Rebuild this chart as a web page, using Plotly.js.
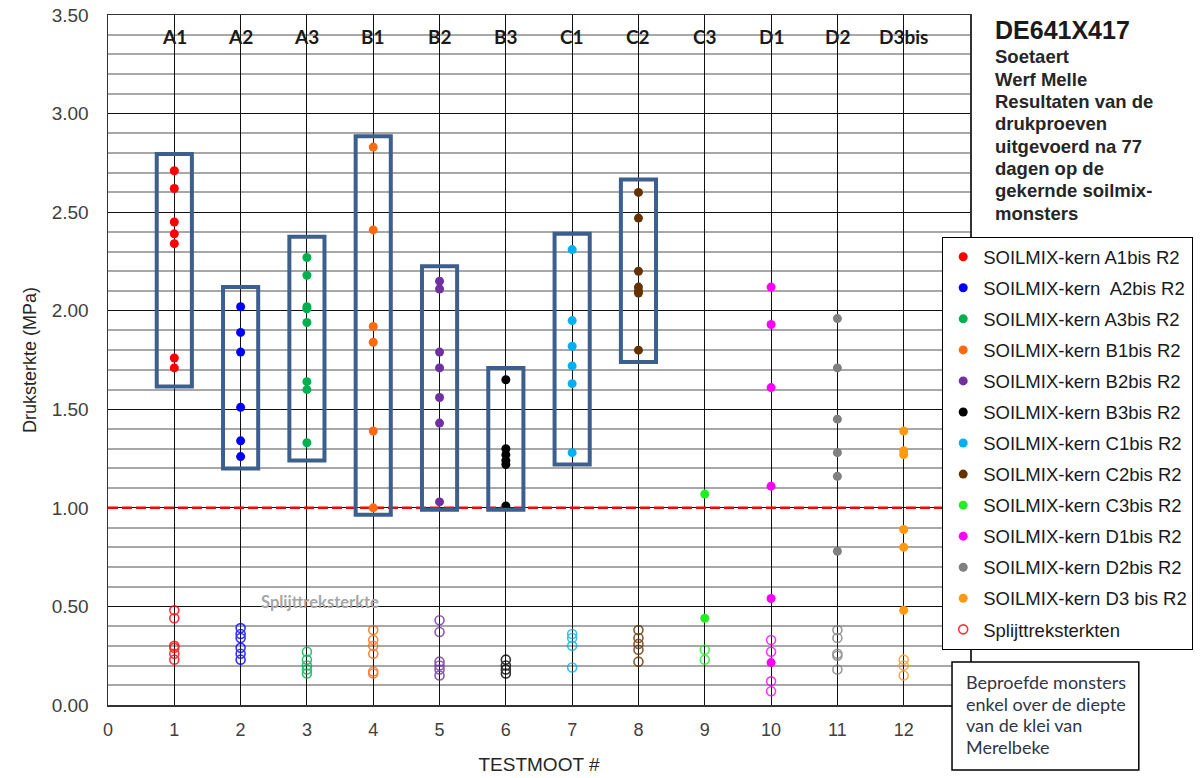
<!DOCTYPE html>
<html><head><meta charset="utf-8">
<script src="https://cdn.plot.ly/plotly-3.0.1.min.js"></script>
<style>html,body{margin:0;padding:0;background:#fff}#chart{width:1204px;height:778px}</style>
</head><body><div id="chart"></div>
<script>
// ---------- DATA ----------
const testX = [1, 2, 3, 4, 5, 6, 7, 8, 9, 10, 11, 12];
const coreLabels = ['A1', 'A2', 'A3', 'B1', 'B2', 'B3', 'C1', 'C2', 'C3', 'D1', 'D2', 'D3bis'];
const legendNames = [
  'SOILMIX-kern A1bis R2', 'SOILMIX-kern  A2bis R2', 'SOILMIX-kern A3bis R2',
  'SOILMIX-kern B1bis R2', 'SOILMIX-kern B2bis R2', 'SOILMIX-kern B3bis R2',
  'SOILMIX-kern C1bis R2', 'SOILMIX-kern C2bis R2', 'SOILMIX-kern C3bis R2',
  'SOILMIX-kern D1bis R2', 'SOILMIX-kern D2bis R2', 'SOILMIX-kern D3 bis R2'
];
const splitName = 'Splijttreksterkten';
const coreColors = ['#ff0000', '#0000ff', '#00b050', '#ff6a10', '#7030a0', '#000000',
                    '#00b0f0', '#663300', '#22ee22', '#ff00ff', '#808080', '#ff9a10'];

// Druksterkte (MPa) per kern
const drukA1 = [2.71, 2.62, 2.45, 2.39, 2.34, 1.76, 1.71];
const drukA2 = [2.02, 1.89, 1.79, 1.51, 1.34, 1.26];
const drukA3 = [2.27, 2.18, 2.02, 2.01, 1.94, 1.64, 1.60, 1.33];
const drukB1 = [2.83, 2.41, 1.92, 1.84, 1.39, 1.00];
const drukB2 = [2.15, 2.11, 1.79, 1.71, 1.56, 1.43, 1.03];
const drukB3 = [1.65, 1.30, 1.27, 1.24, 1.22, 1.01];
const drukC1 = [2.31, 1.95, 1.82, 1.72, 1.63, 1.28];
const drukC2 = [2.60, 2.47, 2.20, 2.12, 2.10, 2.09, 1.80];
const drukC3 = [1.07, 0.44];
const drukD1 = [2.12, 1.93, 1.61, 1.11, 0.54, 0.215];
const drukD2 = [1.96, 1.71, 1.45, 1.28, 1.16, 0.78];
const drukD3 = [1.39, 1.29, 1.27, 0.89, 0.80, 0.48];

// Splijttreksterkte (MPa) per kern
const splitA1 = [0.48, 0.44, 0.30, 0.29, 0.26, 0.23];
const splitA2 = [0.39, 0.36, 0.34, 0.29, 0.26, 0.23];
const splitA3 = [0.27, 0.23, 0.20, 0.18, 0.16];
const splitB1 = [0.38, 0.33, 0.30, 0.26, 0.17, 0.16];
const splitB2 = [0.43, 0.37, 0.22, 0.20, 0.18, 0.15];
const splitB3 = [0.23, 0.20, 0.18, 0.16];
const splitC1 = [0.36, 0.34, 0.30, 0.19];
const splitC2 = [0.38, 0.34, 0.31, 0.28, 0.22];
const splitC3 = [0.28, 0.23];
const splitD1 = [0.33, 0.27, 0.12, 0.07];
const splitD2 = [0.38, 0.34, 0.26, 0.25, 0.18];
const splitD3 = [0.23, 0.20, 0.15];

// Omkaderde groepen
const boxX = [1, 2, 3, 4, 5, 6, 7, 8];
const boxLow = [1.615, 1.20, 1.24, 0.965, 0.99, 0.99, 1.22, 1.74];
const boxHigh = [2.795, 2.12, 2.375, 2.885, 2.225, 1.71, 2.39, 2.665];

const thresholdX = [0, 13];
const thresholdY = [1.0, 1.0];
const xTickVals = [0, 1, 2, 3, 4, 5, 6, 7, 8, 9, 10, 11, 12];

const titleMain = 'DE641X417';
const titleLines = ['Soetaert', 'Werf Melle', 'Resultaten van de', 'drukproeven',
  'uitgevoerd na 77', 'dagen op de', 'gekernde soilmix-', 'monsters'];
const noteLines = ['Beproefde monsters', 'enkel over de diepte', 'van de klei van', 'Merelbeke'];
const splitLabel = 'Splijttreksterkte';

// ---------- BUILD ----------
const drukSets = [drukA1, drukA2, drukA3, drukB1, drukB2, drukB3, drukC1, drukC2, drukC3, drukD1, drukD2, drukD3];
const splitSets = [splitA1, splitA2, splitA3, splitB1, splitB2, splitB3, splitC1, splitC2, splitC3, splitD1, splitD2, splitD3];

// plot geometry (pixels) for paper-positioned texts
const PL = 108, PR = 971, PT = 15, PB = 705;
const px2x = p => (p - PL) / (PR - PL);
const py2y = p => (PB - p) / (PB - PT);

const traces = [];
traces.push({
  x: thresholdX, y: thresholdY, mode: 'lines', showlegend: false, hoverinfo: 'skip',
  line: {color: '#ff0000', width: 2.5, dash: '10px,4px'}
});
drukSets.forEach((vals, i) => {
  traces.push({
    x: vals.map(() => testX[i]), y: vals, mode: 'markers', type: 'scatter',
    name: legendNames[i], legendgroup: 'g' + i,
    marker: {color: coreColors[i], size: 9, symbol: 'circle'}
  });
});
splitSets.forEach((vals, i) => {
  traces.push({
    x: vals.map(() => testX[i]), y: vals, mode: 'markers', type: 'scatter',
    name: splitName, legendgroup: 'split', showlegend: i === 0,
    opacity: 0.8,
    marker: {color: coreColors[i], size: 9, symbol: 'circle-open', line: {width: 1.6, color: coreColors[i]}}
  });
});

const halfW = 0.265;
const shapes = boxX.map((x, i) => ({
  type: 'rect', xref: 'x', yref: 'y', x0: x - halfW, x1: x + halfW,
  y0: boxLow[i], y1: boxHigh[i], line: {color: '#3c5f8e', width: 4}, fillcolor: 'rgba(0,0,0,0)', layer: 'above'
}));
// note box
shapes.push({
  type: 'rect', xref: 'paper', yref: 'paper', x0: px2x(953), x1: px2x(1140), y0: py2y(770), y1: py2y(662),
  line: {color: '#000', width: 1.5}, fillcolor: '#fff', layer: 'above'
});

const annotations = [];
coreLabels.forEach((lab, i) => {
  annotations.push({
    x: testX[i], y: 3.39, xref: 'x', yref: 'y', text: '<b>' + lab + '</b>', showarrow: false,
    font: {family: 'Lato, Liberation Sans, Arial', size: 19, color: '#1a1a1a'}
  });
});
annotations.push({
  x: 3.2, y: 0.52, xref: 'x', yref: 'y', text: '<b>' + splitLabel + '</b>', showarrow: false,
  font: {family: 'Lato, Liberation Sans, Arial', size: 16.5, color: '#a6a6a6'}
});
annotations.push({
  x: px2x(994), y: py2y(30), xref: 'paper', yref: 'paper', xanchor: 'left', yanchor: 'middle',
  text: '<b>' + titleMain + '</b>', showarrow: false,
  font: {family: 'Liberation Sans, Arial', size: 25, color: '#1a1a1a'}
});
titleLines.forEach((t, i) => {
  annotations.push({
    x: px2x(994), y: py2y(57 + i * 22.3), xref: 'paper', yref: 'paper', xanchor: 'left', yanchor: 'middle',
    text: '<b>' + t + '</b>', showarrow: false,
    font: {family: 'Liberation Sans, Arial', size: 18.5, color: '#262626'}
  });
});
noteLines.forEach((t, i) => {
  annotations.push({
    x: px2x(965), y: py2y(682 + i * 21.7), xref: 'paper', yref: 'paper', xanchor: 'left', yanchor: 'middle',
    text: t, showarrow: false,
    font: {family: 'Lato, Liberation Sans, Arial', size: 18, color: '#2f3645'}
  });
});

const layout = {
  width: 1204, height: 778,
  margin: {l: PL, r: 1204 - PR, t: PT, b: 778 - PB},
  paper_bgcolor: '#fff', plot_bgcolor: '#fff',
  showlegend: true,
  legend: {
    x: px2x(942), y: py2y(237), xanchor: 'left', yanchor: 'top',
    bgcolor: '#fff', bordercolor: '#000', borderwidth: 1.2,
    font: {family: 'Liberation Sans, Arial', size: 18.5, color: '#1a1a1a'},
    tracegroupgap: 4, itemwidth: 30
  },
  xaxis: {
    range: [0, 13], tickvals: xTickVals, ticktext: xTickVals.map(String),
    showgrid: true, gridcolor: '#111', gridwidth: 1, zeroline: false,
    showline: true, mirror: true, linecolor: '#333', linewidth: 1.5, ticks: '',
    ticklabelstandoff: 8,
    tickfont: {family: 'Liberation Sans, Arial', size: 18, color: '#404040'},
    title: {text: 'TESTMOOT #', font: {family: 'Liberation Sans, Arial', size: 19, color: '#262626'}, standoff: 18}
  },
  yaxis: {
    range: [0, 3.5], dtick: 0.5, tick0: 0, tickformat: '.2f',
    showgrid: true, gridcolor: '#111', gridwidth: 1, zeroline: false,
    minor: {dtick: 0.1, tick0: 0, showgrid: true, gridcolor: '#a8a8a8', gridwidth: 2, ticks: ''},
    showline: true, mirror: true, linecolor: '#333', linewidth: 1.5, ticks: '',
    ticklabelstandoff: 14,
    tickfont: {family: 'Liberation Sans, Arial', size: 19, color: '#404040'},
    title: {text: 'Druksterkte (MPa)', font: {family: 'Liberation Sans Narrow, Liberation Sans, Arial', size: 18, color: '#262626'}, standoff: 10}
  },
  shapes: shapes,
  annotations: annotations
};

Plotly.newPlot('chart', traces, layout, {displayModeBar: false, staticPlot: true});
</script>
</body></html>
